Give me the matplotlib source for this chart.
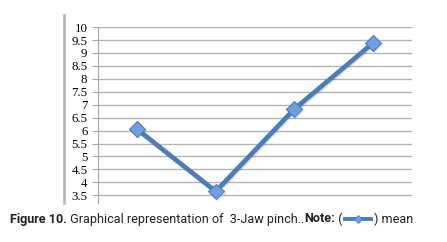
import matplotlib
matplotlib.use("Agg")
import matplotlib.pyplot as plt
from matplotlib.lines import Line2D
import matplotlib.patheffects as pe

# dados
categorias = ["1", "2", "3", "4"]
media = [6.05, 3.65, 6.83, 9.38]
ticks_y = [3.5, 4, 4.5, 5, 5.5, 6, 6.5, 7, 7.5, 8, 8.5, 9, 9.5, 10]

azul = "#4a7ebb"
azul_marcador = "#6f9fe0"

fig = plt.figure(figsize=(4.47, 2.42), dpi=100)
ax = fig.add_axes([0.219, 0.161, 0.703, 0.727])

x = list(range(len(categorias)))
ax.plot(x, media, color=azul, lw=3.4, marker="D", ms=8,
        mfc=azul_marcador, mec=azul, mew=0.8, solid_capstyle="round",
        path_effects=[pe.SimpleLineShadow(offset=(0.8, -0.8), alpha=0.12), pe.Normal()],
        zorder=3)

ax.set_xlim(-0.5, len(categorias) - 0.5)
ax.set_ylim(3.2, 10)
ax.set_yticks(ticks_y)
ax.set_yticklabels([f"{t:g}" for t in ticks_y], family="Liberation Serif", fontsize=9.3)
ax.set_xticks([])
ax.grid(axis="y", color="#b4b4b4", lw=1)
ax.set_axisbelow(True)
for s in ["top", "right", "bottom"]:
    ax.spines[s].set_visible(False)
ax.spines["left"].set_color("#a6a6a6")
ax.tick_params(axis="y", length=4, color="#a6a6a6", pad=3.5)

# borda esquerda
fig.add_artist(Line2D([64 / 447, 64 / 447], [1 - 15 / 242, 1 - 203 / 242],
                      color="#b0b0b0", lw=1.8, transform=fig.transFigure))

# legenda / titulo
fig.canvas.draw()
r = fig.canvas.get_renderer()
y_txt = 1 - 219 / 242
xpos = 10
partes = [("Figure 10.", "bold"), (" Graphical representation of  3-Jaw pinch..", "normal"),
          ("Note:", "bold"), (" (", "normal"), (None, None), (") mean", "normal")]
for texto, peso in partes:
    if texto is None:
        x0, x1 = xpos + 2, xpos + 28
        yy = y_txt
        fig.add_artist(Line2D([x0 / 447, x1 / 447], [yy, yy], color=azul, lw=2.8,
                              transform=fig.transFigure))
        fig.add_artist(Line2D([(x0 + x1) / 2 / 447], [yy], marker="D", ms=4.5,
                              mfc=azul_marcador, mec=azul, mew=0.6,
                              transform=fig.transFigure))
        xpos = x1 + 3
        continue
    t = fig.text(xpos / 447, y_txt, texto, family="Roboto", fontsize=9.1,
                 weight=peso, va="center", ha="left", color="#222222")
    bb = t.get_window_extent(renderer=r)
    xpos = bb.x1

fig.savefig("out.png", dpi=100)
